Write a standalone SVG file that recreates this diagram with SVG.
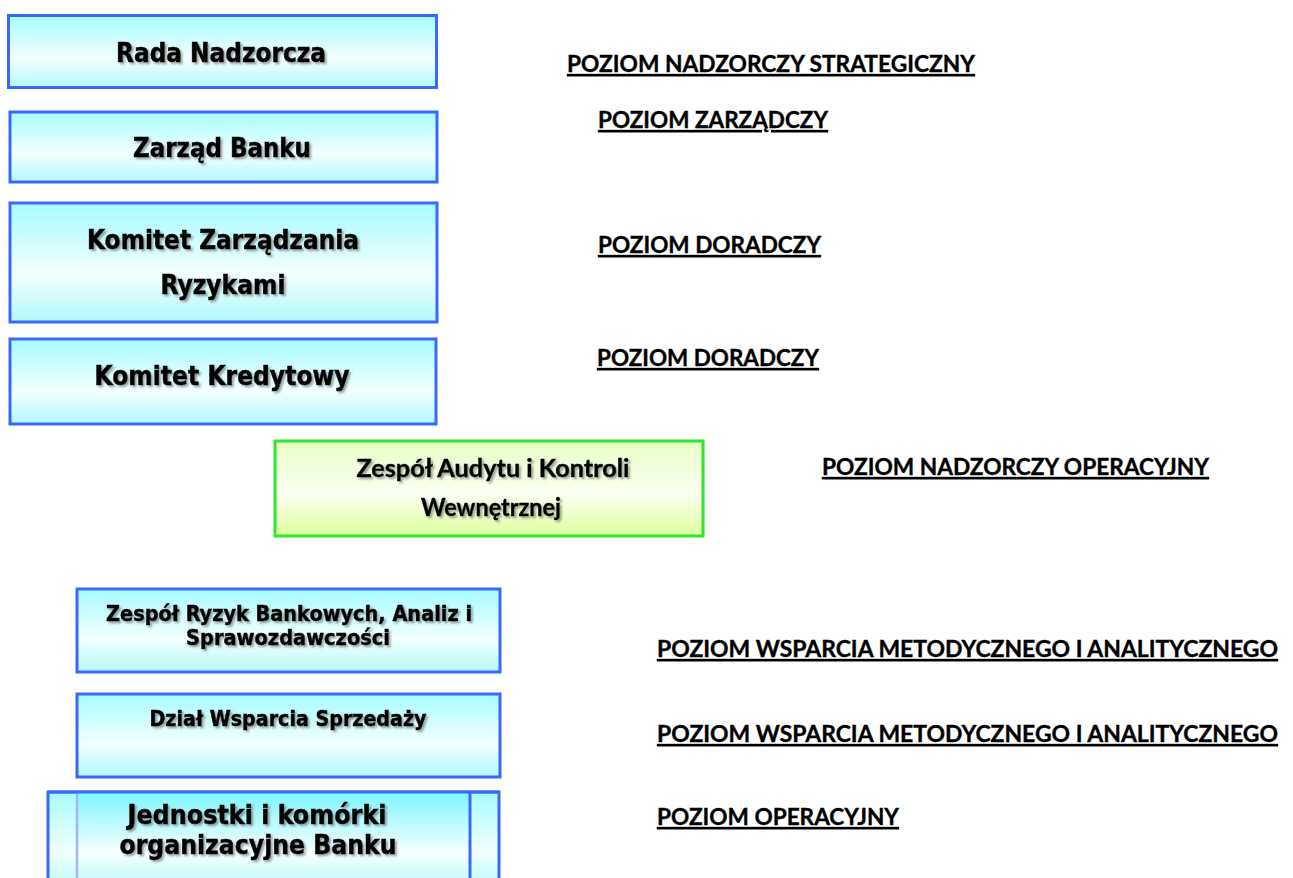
<svg xmlns="http://www.w3.org/2000/svg" width="1293" height="878" viewBox="0 0 1293 878">
<defs>
<linearGradient id="gBlue" x1="0" y1="0" x2="0" y2="1">
<stop offset="0" stop-color="#a6fbff"/>
<stop offset="0.6" stop-color="#f3ffff"/>
<stop offset="1" stop-color="#b2f8fc"/>
</linearGradient>
<linearGradient id="gBlueStrong" x1="0" y1="0" x2="0" y2="1">
<stop offset="0" stop-color="#7cf5ff"/>
<stop offset="0.6" stop-color="#f6ffff"/>
<stop offset="1" stop-color="#b8f8fc"/>
</linearGradient>
<linearGradient id="gGreen" x1="0" y1="0" x2="0" y2="1">
<stop offset="0" stop-color="#e6ffc4"/>
<stop offset="0.55" stop-color="#fbfff2"/>
<stop offset="1" stop-color="#dcff9c"/>
</linearGradient>
<filter id="shadow" x="-10%" y="-30%" width="120%" height="160%">
<feDropShadow dx="2" dy="2" stdDeviation="1.3" flood-color="#555555" flood-opacity="0.55"/>
</filter>
<style>
.box{fill:url(#gBlue);stroke:#3a68ff;stroke-width:3}
.gbox{fill:url(#gGreen);stroke:#2ee82e;stroke-width:3}
.t{font-family:"DejaVu Sans Condensed","DejaVu Sans","Liberation Sans",sans-serif;font-weight:bold;fill:#000;stroke:#000;stroke-width:0.5;text-anchor:middle;filter:url(#shadow)}
.tc{font-family:Lato,"Open Sans","Liberation Sans",sans-serif;font-weight:bold;fill:#000;stroke:#000;stroke-width:0.4;text-anchor:middle;filter:url(#shadow)}
.lbl{font-family:Lato,"Open Sans","Liberation Sans",sans-serif;font-weight:bold;font-size:22px;fill:#000;stroke:#000;stroke-width:0.35;text-decoration:underline}
</style>
</defs>
<rect width="1293" height="878" fill="#ffffff"/>
<g id="connectors"/>
<g id="rada">
<rect class="box" x="8.5" y="15.5" width="428" height="72"/>
<text class="t" x="221" y="62" font-size="26" textLength="210" lengthAdjust="spacingAndGlyphs">Rada Nadzorcza</text>
</g>
<g id="zarzad">
<rect class="box" x="10" y="112" width="427" height="70"/>
<text class="t" x="222" y="157" font-size="26" textLength="178" lengthAdjust="spacingAndGlyphs">Zarząd Banku</text>
</g>
<g id="komitet-ryzyk">
<rect class="box" x="10" y="203" width="427" height="119"/>
<text class="t" x="223" y="249" font-size="26" textLength="272" lengthAdjust="spacingAndGlyphs">Komitet Zarządzania</text>
<text class="t" x="223" y="294" font-size="26" textLength="125" lengthAdjust="spacingAndGlyphs">Ryzykami</text>
</g>
<g id="komitet-kredytowy">
<rect class="box" x="10" y="339" width="426" height="85"/>
<text class="t" x="222" y="385" font-size="26" textLength="255" lengthAdjust="spacingAndGlyphs">Komitet Kredytowy</text>
</g>
<g id="audyt">
<rect class="gbox" x="275" y="441" width="428" height="95"/>
<text class="tc" x="493" y="477" font-size="24" textLength="273" lengthAdjust="spacingAndGlyphs">Zespół Audytu i Kontroli</text>
<text class="tc" x="491" y="516" font-size="24" textLength="140" lengthAdjust="spacingAndGlyphs">Wewnętrznej</text>
</g>
<g id="ryzyka-bankowe">
<rect class="box" x="77" y="589" width="423" height="83"/>
<text class="t" x="289" y="621" font-size="22" textLength="366" lengthAdjust="spacingAndGlyphs">Zespół Ryzyk Bankowych, Analiz i</text>
<text class="t" x="288" y="645" font-size="22" textLength="204" lengthAdjust="spacingAndGlyphs">Sprawozdawczości</text>
</g>
<g id="wsparcie-sprzedazy">
<rect class="box" x="77" y="694" width="423" height="83"/>
<text class="t" x="288" y="726" font-size="22" textLength="277" lengthAdjust="spacingAndGlyphs">Dział Wsparcia Sprzedaży</text>
</g>
<g id="jednostki">
<rect class="box" x="48" y="792" width="451" height="100"/>
<rect x="77" y="792" width="393" height="100" fill="url(#gBlueStrong)"/>
<line x1="77" y1="792" x2="77" y2="878" stroke="#a4b4ff" stroke-width="2.5"/>
<line x1="470" y1="792" x2="470" y2="878" stroke="#3a68ff" stroke-width="3"/>
<line x1="48" y1="792" x2="499" y2="792" stroke="#3a68ff" stroke-width="3"/>
<text class="t" x="257" y="824" font-size="27" textLength="259" lengthAdjust="spacingAndGlyphs">Jednostki i komórki</text>
<text class="t" x="258" y="854" font-size="27" textLength="277" lengthAdjust="spacingAndGlyphs">organizacyjne Banku</text>
</g>
<g id="labels">
<text class="lbl" x="567" y="72" textLength="408" lengthAdjust="spacingAndGlyphs">POZIOM NADZORCZY STRATEGICZNY</text>
<text class="lbl" x="598" y="128" textLength="230" lengthAdjust="spacingAndGlyphs">POZIOM ZARZĄDCZY</text>
<text class="lbl" x="598" y="253" textLength="223" lengthAdjust="spacingAndGlyphs">POZIOM DORADCZY</text>
<text class="lbl" x="597" y="366" textLength="222" lengthAdjust="spacingAndGlyphs">POZIOM DORADCZY</text>
<text class="lbl" x="822" y="475" textLength="387" lengthAdjust="spacingAndGlyphs">POZIOM NADZORCZY OPERACYJNY</text>
<text class="lbl" x="657" y="657" textLength="621" lengthAdjust="spacingAndGlyphs">POZIOM WSPARCIA METODYCZNEGO I ANALITYCZNEGO</text>
<text class="lbl" x="657" y="742" textLength="621" lengthAdjust="spacingAndGlyphs">POZIOM WSPARCIA METODYCZNEGO I ANALITYCZNEGO</text>
<text class="lbl" x="657" y="825" textLength="242" lengthAdjust="spacingAndGlyphs">POZIOM OPERACYJNY</text>
</g>
</svg>
